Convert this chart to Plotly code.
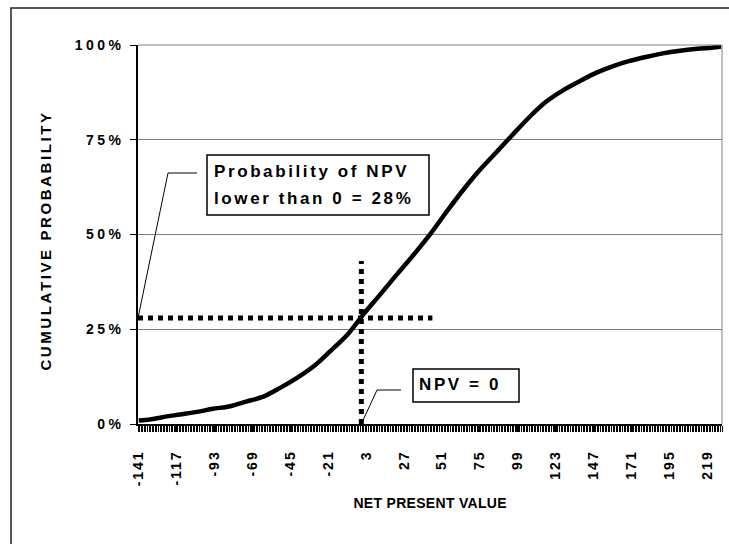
import plotly.graph_objects as go

# Cumulative distribution of simulated net present value
npv = [-141, -134, -126, -115, -104, -94, -83, -73, -62, -52, -41, -30, -20, -9, -3, 1,
       12, 22, 33, 44, 54, 65, 75, 86, 96, 107, 117, 128, 139, 149, 160, 170, 181, 191,
       202, 213, 222, 228]
cum_prob = [0.9, 1.2, 1.8, 2.5, 3.2, 4.0, 4.7, 5.9, 7.2, 9.4, 12.1, 15.3, 19.1, 23.5, 26.6, 28.8,
            34.2, 39.2, 44.6, 50.3, 56.0, 62.0, 67.0, 71.9, 76.4, 81.2, 85.0, 88.1, 90.6, 92.7,
            94.5, 95.8, 96.9, 97.8, 98.5, 99.0, 99.3, 99.6]

npv_ticks = [-141, -117, -93, -69, -45, -21, 3, 27, 51, 75, 99, 123, 147, 171, 195, 219]
npv_tick_labels = [str(v) for v in npv_ticks]
prob_ticks = [0, 0.25, 0.5, 0.75, 1.0]
prob_tick_labels = ["0%", "25%", "50%", "75%", "100%"]

npv_zero = 0
prob_below_zero = 0.28
marker_top = 0.43
guide_right = 45

# page geometry (pixels) and helpers to place decorations in paper coordinates
W, H = 729, 544
ML, MR, MT, MB = 138, 7, 45, 120
PW, PH = W - ML - MR, H - MT - MB


def px(x):
    return (x - ML) / PW


def py(y):
    return (H - MB - y) / PH


FONT = "Liberation Sans, Arial, sans-serif"


def bold(size):
    return dict(family=FONT, size=size, color="black", weight="bold")


fig = go.Figure()
fig.add_trace(go.Scatter(
    x=npv, y=[p / 100 for p in cum_prob], mode="lines",
    line=dict(color="black", width=4.5, shape="spline", smoothing=0.8),
    hoverinfo="skip", showlegend=False))

shapes = [
    # outer chart frame
    dict(type="rect", xref="paper", yref="paper", x0=px(11), x1=px(740), y0=py(560), y1=py(8),
         line=dict(color="#222", width=1.5), layer="below"),
    # plot area right edge and top
    dict(type="line", xref="paper", yref="paper", x0=1, x1=1, y0=0, y1=1,
         line=dict(color="#808080", width=1)),
    dict(type="line", xref="paper", yref="paper", x0=0, x1=1, y0=1, y1=1,
         line=dict(color="#808080", width=1)),
    # dotted guides at NPV = 0 and the matching probability
    dict(type="line", xref="x", yref="y", x0=npv[0] - 0.5, x1=guide_right,
         y0=prob_below_zero, y1=prob_below_zero, line=dict(color="black", width=5, dash="dot")),
    dict(type="line", xref="x", yref="y", x0=npv_zero, x1=npv_zero, y0=0, y1=marker_top,
         line=dict(color="black", width=5, dash="dot")),
    # callout boxes
    dict(type="rect", xref="paper", yref="paper", x0=px(207), x1=px(429), y0=py(215), y1=py(155),
         line=dict(color="black", width=1.5), fillcolor="white"),
    dict(type="rect", xref="paper", yref="paper", x0=px(413), x1=px(519), y0=py(402), y1=py(369),
         line=dict(color="black", width=1.5), fillcolor="white"),
    # callout leaders
    dict(type="path", xref="paper", yref="paper",
         path=f"M {px(197)} {py(173)} L {px(168)} {py(173)} L {px(138)} {py(318)}",
         line=dict(color="black", width=1)),
    dict(type="path", xref="paper", yref="paper",
         path=f"M {px(401)} {py(390)} L {px(377)} {py(390)} L {px(361.3)} {py(424)}",
         line=dict(color="black", width=1)),
]

annotations = [
    dict(text="Probability of NPV", x=px(212), y=py(171), xref="paper", yref="paper",
         xanchor="left", yanchor="middle", align="left", showarrow=False, font=bold(17)),
    dict(text="lower than 0 = 28%", x=px(212), y=py(198), xref="paper", yref="paper",
         xanchor="left", yanchor="middle", align="left", showarrow=False, font=bold(17)),
    dict(text="NPV = 0", x=px(417), y=py(384), xref="paper", yref="paper",
         xanchor="left", yanchor="middle", align="left", showarrow=False, font=bold(17)),
    dict(text="CUMULATIVE PROBABILITY", x=px(45), y=py(241), xref="paper", yref="paper",
         xanchor="center", yanchor="middle", textangle=-90, showarrow=False, font=bold(15)),
    dict(text="NET PRESENT VALUE", x=px(430), y=py(503), xref="paper", yref="paper",
         xanchor="center", yanchor="middle", showarrow=False, font=bold(14)),
]

fig.update_layout(
    width=W, height=H, margin=dict(l=ML, r=MR, t=MT, b=MB, autoexpand=False),
    paper_bgcolor="white", plot_bgcolor="white", showlegend=False,
    shapes=shapes, annotations=annotations,
)
fig.update_xaxes(
    range=[npv[0] - 0.5, npv[-1] + 0.5], tickmode="array", tickvals=npv_ticks,
    ticktext=npv_tick_labels, tickangle=-90, tickfont=bold(14),
    ticks="outside", ticklen=6, tickcolor="black", ticklabelstandoff=13,
    showline=True, linecolor="black", linewidth=1.5, showgrid=False, zeroline=False,
    minor=dict(dtick=1, tick0=npv[0] - 0.5, ticks="outside", ticklen=6,
               tickcolor="black", tickwidth=1, showgrid=False),
)
fig.update_yaxes(
    range=[0, 1], tickmode="array", tickvals=prob_ticks, ticktext=prob_tick_labels,
    tickfont=bold(14), ticks="outside", ticklen=6, tickcolor="black", ticklabelstandoff=3,
    showline=True, linecolor="black", linewidth=1.5,
    showgrid=True, gridcolor="#808080", gridwidth=1, zeroline=False,
)

# widen the character tracking of the bold labels
tracking_js = """
var gd = document.getElementById('{plot_id}');
var annoTracking = {
  'Probability of NPV': '2.6px', 'lower than 0 = 28%': '2.6px', 'NPV = 0': '2.6px',
  'CUMULATIVE PROBABILITY': '2.6px', 'NET PRESENT VALUE': '0.3px'
};
function applyTracking() {
  gd.querySelectorAll('.ytick text').forEach(function (t) { t.style.letterSpacing = '3.5px'; });
  gd.querySelectorAll('.xtick text').forEach(function (t) { t.style.letterSpacing = '2px'; });
  gd.querySelectorAll('text.annotation-text').forEach(function (t) {
    var s = annoTracking[t.textContent];
    if (s) { t.style.letterSpacing = s; }
  });
}
applyTracking();
gd.on('plotly_afterplot', applyTracking);
"""

fig.write_html("out.html", post_script=tracking_js)
